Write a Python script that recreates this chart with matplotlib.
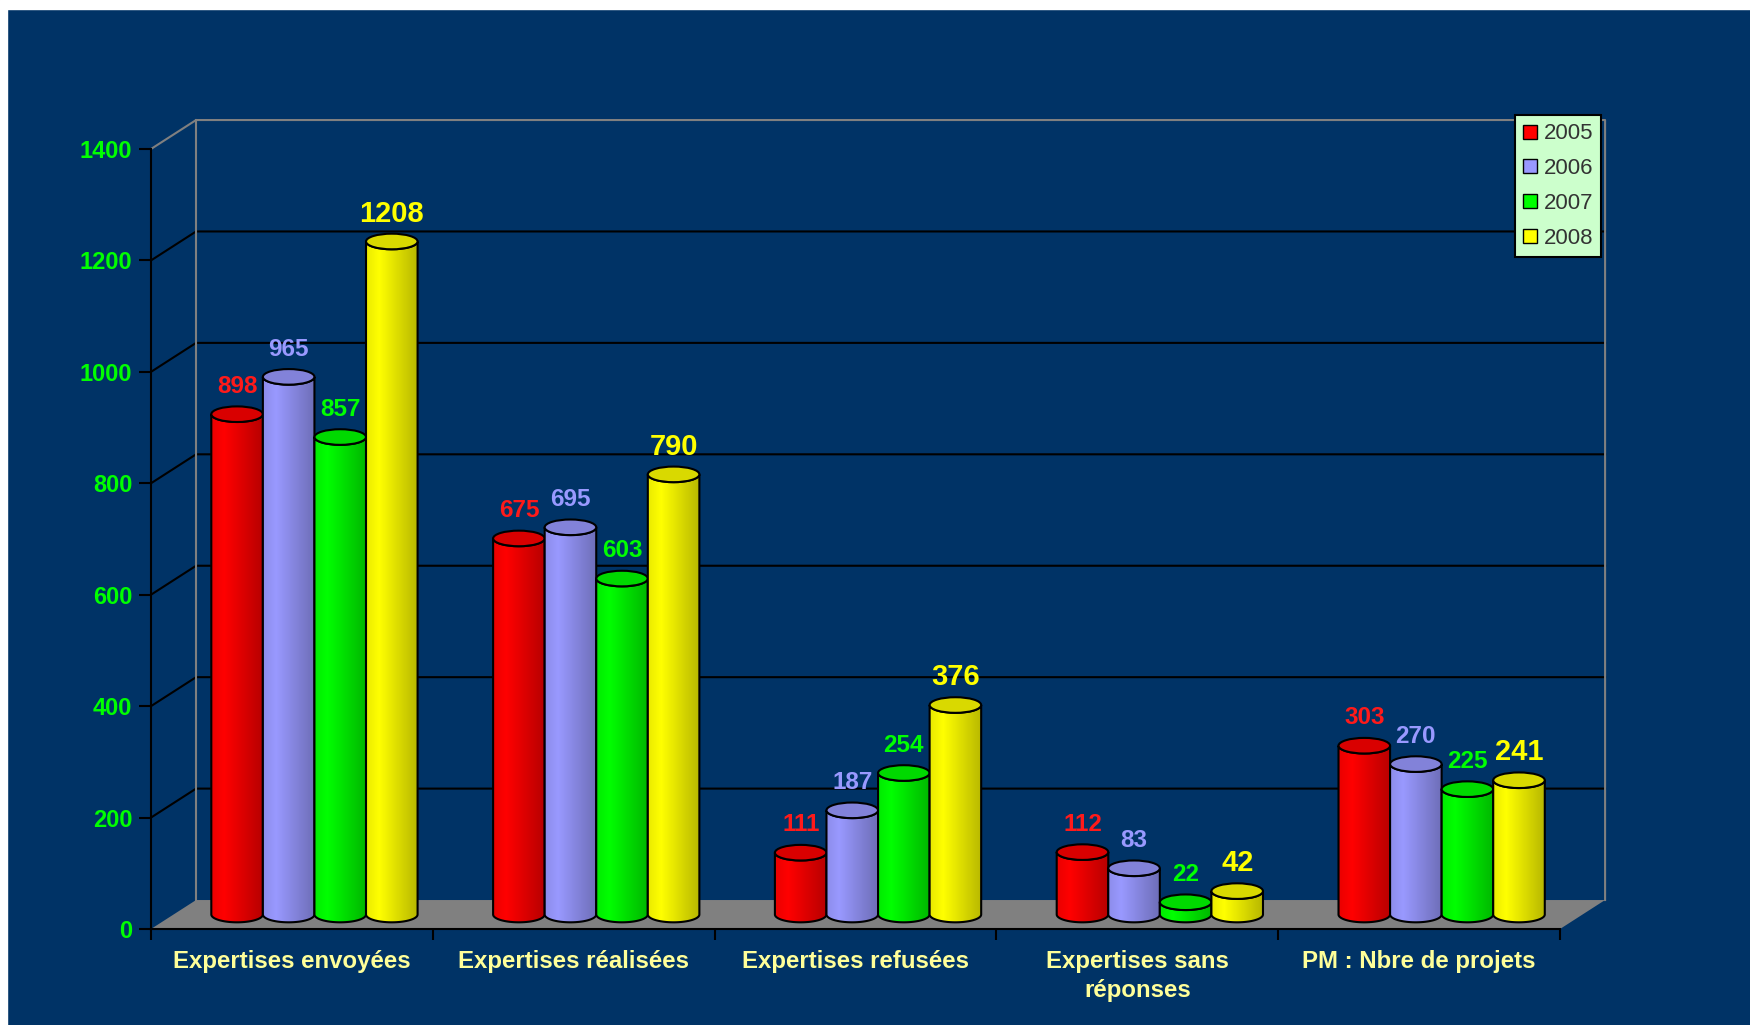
import numpy as np
import matplotlib
matplotlib.use("Agg")
import matplotlib.pyplot as plt
from matplotlib.patches import Polygon, Ellipse, Patch, Rectangle
from matplotlib.colors import to_rgb

plt.rcParams['font.family'] = ['Liberation Sans', 'DejaVu Sans']

# data
categories = ["Expertises envoyées", "Expertises réalisées", "Expertises refusées",
              "Expertises sans\nréponses", "PM : Nbre de projets"]
years = ["2005", "2006", "2007", "2008"]
v2005 = [898, 675, 111, 112, 303]
v2006 = [965, 695, 187, 83, 270]
v2007 = [857, 603, 254, 22, 225]
v2008 = [1208, 790, 376, 42, 241]
series = [v2005, v2006, v2007, v2008]

bar_colors = ['#FF0000', '#9999FF', '#00FF00', '#FFFF00']
label_colors = ['#FF1A1A', '#9999FF', '#00FF00', '#FFFF00']
label_sizes = [17.5, 17.5, 17.5, 21]

BG = '#003366'
DX, DY = 0.16, 52   # 3d depth offset (category units, value units)
W = 0.183           # bar width
RY = 14             # ellipse half height (value units)
YMAX = 1400
n = len(categories)

fig = plt.figure(figsize=(17.5, 10.25), dpi=100)
fig.patch.set_facecolor(BG)
# white margin top / left like the screenshot
fig.add_artist(Rectangle((0, 1 - 9 / 1025), 1, 9 / 1025, transform=fig.transFigure,
                         color='white', zorder=10))
fig.add_artist(Rectangle((0, 0), 7 / 1750, 1, transform=fig.transFigure,
                         color='white', zorder=10))

ax = fig.add_axes([151 / 1750, 96 / 1025, 1409 / 1750, 780 / 1025])
ax.set_facecolor('none')

# floor
ax.add_patch(Polygon([(0, 0), (n, 0), (n + DX, DY), (DX, DY)], closed=True,
                     facecolor='#808080', edgecolor='none', zorder=1, clip_on=False))
# grid lines on side and back wall
for v in range(200, YMAX, 200):
    ax.plot([0, DX, n + DX], [v, v + DY, v + DY], color='black', lw=1.5,
            zorder=1, clip_on=False)
# wall edges
ax.plot([0, DX, n + DX, n + DX], [YMAX, YMAX + DY, YMAX + DY, DY], color='#808080',
        lw=1.5, zorder=1, clip_on=False)
ax.plot([DX, DX], [DY, YMAX + DY], color='#808080', lw=1.5, zorder=1, clip_on=False)


def shade(c, t):
    f = np.interp(t, [0, 0.25, 1], [0.92, 1.0, 0.72])
    return np.clip(np.array(to_rgb(c))[None, :] * f[:, None], 0, 1)


th = np.linspace(0, np.pi, 40)
grad = np.linspace(0, 1, 64)
for i in range(n):
    for j, vals in enumerate(series):
        xc = i + 0.5 + (j - 1.5) * W + DX / 2
        base = DY / 2
        top = base + vals[i]
        bx = xc - W / 2 * np.cos(th)
        verts = list(zip(bx, base - RY * np.sin(th))) + \
            list(zip(bx[::-1], (top - RY * np.sin(th))[::-1]))
        body = Polygon(verts, closed=True, facecolor='none', edgecolor='black',
                       lw=1.5, zorder=3)
        img = shade(bar_colors[j], grad)[None, :, :]
        im = ax.imshow(img, extent=[xc - W / 2, xc + W / 2, base - RY, top + RY],
                       aspect='auto', interpolation='bilinear', zorder=3)
        ax.add_patch(body)
        im.set_clip_path(body)
        topc = np.array(to_rgb(bar_colors[j])) * 0.85
        ax.add_patch(Ellipse((xc, top), W, 2 * RY, facecolor=topc,
                             edgecolor='black', lw=1.5, zorder=3))
        ax.text(xc, top + 50, str(vals[i]), color=label_colors[j], fontsize=label_sizes[j],
                fontweight='bold', ha='center', va='center', zorder=5)

ax.set_xlim(0, n)
ax.set_ylim(0, YMAX)

ax.set_yticks(range(0, YMAX + 1, 200))
ax.tick_params(axis='y', color='black', labelcolor='#00FF00', length=8.5, width=1.5,
               pad=5, labelsize=17)
for lab in ax.get_yticklabels():
    lab.set_fontweight('bold')
ax.set_xticks(range(n + 1))
ax.set_xticklabels([])
ax.set_xticks(np.arange(n) + 0.5, minor=True)
ax.set_xticklabels(categories, minor=True, color='#FFFF99', fontsize=17.3,
                   fontweight='bold', linespacing=1.35)
ax.tick_params(axis='x', which='major', length=8, width=1.5, color='black')
ax.tick_params(axis='x', which='minor', length=0, pad=15)
for s in ['top', 'right']:
    ax.spines[s].set_visible(False)
for s in ['left', 'bottom']:
    ax.spines[s].set_color('black')
    ax.spines[s].set_linewidth(1.5)

handles = [Patch(facecolor=c, edgecolor='black', lw=1) for c in bar_colors]
leg = fig.legend(handles, years, loc='upper left',
                 bbox_to_anchor=(1515 / 1750, 1 - 115 / 1025), frameon=True,
                 fancybox=False, fontsize=16, handlelength=0.6, handleheight=0.6,
                 handletextpad=0.3, labelspacing=0.62, borderpad=0.38, borderaxespad=0,
                 edgecolor='black', facecolor='#CCFFCC', framealpha=1)
leg.get_frame().set_linewidth(1.5)
for t in leg.get_texts():
    t.set_color('#333333')

fig.savefig("out.png", dpi=100, facecolor=fig.get_facecolor())
